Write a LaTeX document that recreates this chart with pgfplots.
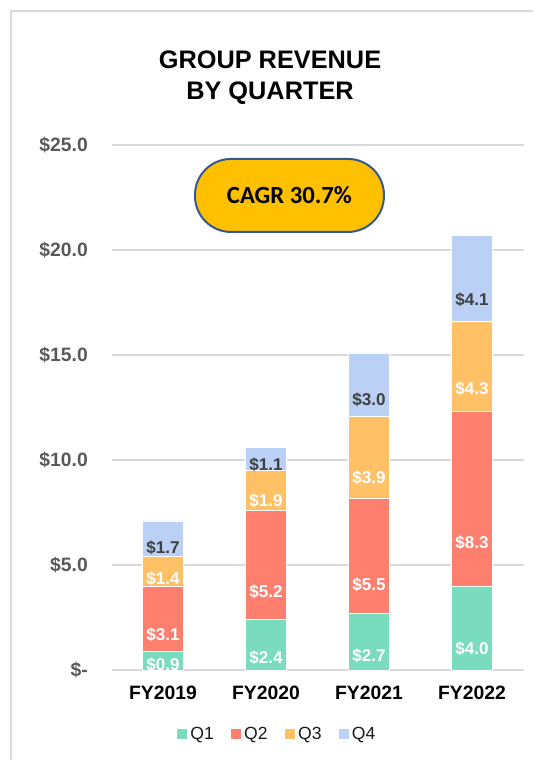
\documentclass[border=0pt]{standalone}
\usepackage{fontspec}
\setmainfont{Liberation Sans}
\newfontfamily\calibri{Carlito}
\usepackage{pgfplots}
\pgfplotsset{compat=1.18}
\usepackage{pgfplotstable}
\definecolor{cQ1}{RGB}{122,220,190}
\definecolor{cQ2}{RGB}{255,127,110}
\definecolor{cQ3}{RGB}{255,192,102}
\definecolor{cQ4}{RGB}{186,208,245}
\definecolor{gridgray}{RGB}{217,217,217}
\definecolor{framegray}{RGB}{217,217,217}
\definecolor{labgray}{RGB}{89,89,89}
\definecolor{q4text}{RGB}{64,64,64}
\definecolor{cagrfill}{RGB}{255,192,0}
\definecolor{cagredge}{RGB}{52,88,150}

\pgfplotstableread{
x q1 q2 q3 q4
0 0.9 3.1 1.4 1.7
1 2.4 5.2 1.9 1.1
2 2.7 5.5 3.9 3.0
3 4.0 8.3 4.3 4.1
}\revtable

\pgfplotsset{
  sqlegend/.style={legend image code/.code={\fill[##1] (0pt,-4.2pt) rectangle (8.4pt,4.2pt);}},
  seglabel/.style={
    point meta=explicit symbolic,
    nodes near coords={\$\pgfplotspointmeta},
    nodes near coords style={anchor=center, inner sep=0pt, yshift=-\pgfplotspointmeta*3.9375pt, text=#1,
      font=\bfseries\fontsize{12.8}{14}\selectfont},
  },
}

\begin{document}
\begin{tikzpicture}
\useasboundingbox (0,0) rectangle (399.75pt,570pt);
\draw[framegray, line width=1.5pt] (8pt,0) -- (8pt,562.1pt) -- (399.75pt,562.1pt);
\node[font=\bfseries\fontsize{19}{23}\selectfont, anchor=base] at (202.5pt,518.25pt) {GROUP REVENUE};
\node[font=\bfseries\fontsize{19}{23}\selectfont, anchor=base] at (202.5pt,495pt) {BY QUARTER};
\begin{axis}[
  at={(83.625pt,67.5pt)}, anchor=south west,
  scale only axis, width=309pt, height=393.75pt,
  ymin=0, ymax=25, xmin=-0.5, xmax=3.5,
  ybar stacked, bar width=30.75pt,
  ytick={0,5,10,15,20,25},
  yticklabels={\$-,\$5.0,\$10.0,\$15.0,\$20.0,\$25.0},
  xtick={0,1,2,3},
  xticklabels={FY2019,FY2020,FY2021,FY2022},
  ymajorgrids, grid style={gridgray, line width=1.1pt},
  axis line style={draw=none},
  major tick length=0pt, tick style={draw=none},
  yticklabel style={anchor=east, inner sep=0pt, xshift=-17.6pt, text=labgray,
    font=\bfseries\fontsize{14.5}{16}\selectfont},
  xticklabel style={anchor=base, inner sep=0pt, yshift=-21.75pt, text=black,
    font=\bfseries\fontsize{14.5}{16}\selectfont},
  /pgf/number format/assume math mode=true,
  legend style={at={(0.4017,-0.1219)}, anchor=center, draw=none, fill=none,
    legend columns=4, font=\fontsize{13.2}{15}\selectfont, text=black!90,
    /tikz/every even column/.append style={column sep=10pt}},
  clip=false,
]
\addplot[fill=cQ1, draw=white, line width=0.4pt, sqlegend, seglabel=white]
  table[x=x, y=q1, meta=q1]{\revtable};
\addplot[fill=cQ2, draw=white, line width=0.4pt, sqlegend, seglabel=white]
  table[x=x, y=q2, meta=q2]{\revtable};
\addplot[fill=cQ3, draw=white, line width=0.4pt, sqlegend, seglabel=white]
  table[x=x, y=q3, meta=q3]{\revtable};
\addplot[fill=cQ4, draw=white, line width=0.4pt, sqlegend, seglabel=q4text]
  table[x=x, y=q4, meta=q4]{\revtable};
\legend{Q1,Q2,Q3,Q4}
\end{axis}
\node[draw=cagredge, line width=1.5pt, fill=cagrfill, rounded corners=27pt,
  minimum width=141.75pt, minimum height=54.75pt, inner sep=0pt,
  font=\calibri\bfseries\fontsize{18.5}{20}\selectfont] at (217.1pt,423.4pt) {CAGR 30.7\%};
\end{tikzpicture}
\end{document}
